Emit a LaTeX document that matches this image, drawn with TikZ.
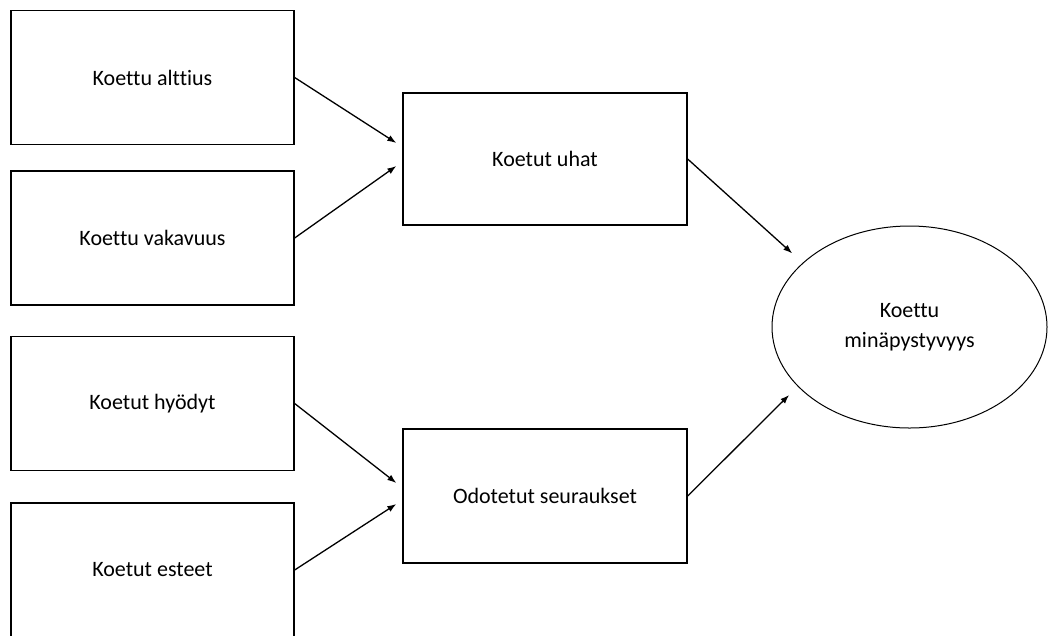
\documentclass[tikz,border=0pt]{standalone}
\usepackage{fontspec}
\setmainfont{Carlito}[RawFeature=-liga]
\usetikzlibrary{arrows.meta, shapes.geometric}

\tikzset{
  box/.style={draw, line width=1.3pt, minimum width=283pt, minimum height=134pt, inner sep=0pt, font=\fontsize{22}{30}\selectfont},
  oval/.style={ellipse, draw, line width=1pt, minimum width=275pt, minimum height=202pt, inner sep=0pt, align=center, font=\fontsize{22}{30}\selectfont},
  conn/.style={-{Latex[length=9pt,width=6.5pt]}, line width=1.3pt}
}

\begin{document}
\begin{tikzpicture}[x=1pt, y=-1pt]
            \useasboundingbox (0, 0) rectangle (1048, 635);

            \node[box] (alt) at (152.5, 77.5) {Koettu alttius};
            \node[box] (vak) at (152.5, 238) {Koettu vakavuus};
            \node[box] (hyo) at (152.5, 403.5) {Koetut hyödyt};
            \node[box] (est) at (152.5, 570) {Koetut esteet};
            \node[box, minimum width=284pt, minimum height=132pt] (uhat) at (545, 159) {Koetut uhat};
            \node[box, minimum width=284pt, minimum height=134pt] (seur) at (545, 496) {Odotetut seuraukset};
            \node[oval] (minap) at (909.5, 327) {Koettu\\minäpystyvyys};

            \draw[conn] (alt.east) -- ([shift={(-6,-16)}]uhat.west);
            \draw[conn] (vak.east) -- ([shift={(-6,7)}]uhat.west);
            \draw[conn] (hyo.east) -- ([shift={(-6,-13)}]seur.west);
            \draw[conn] (est.east) -- ([shift={(-6,8)}]seur.west);
            \draw[conn, shorten >=14pt] (uhat.east) -- (minap.149);
            \draw[conn, shorten >=12pt] (seur.east) -- (minap.208);
        \end{tikzpicture}
\end{document}
